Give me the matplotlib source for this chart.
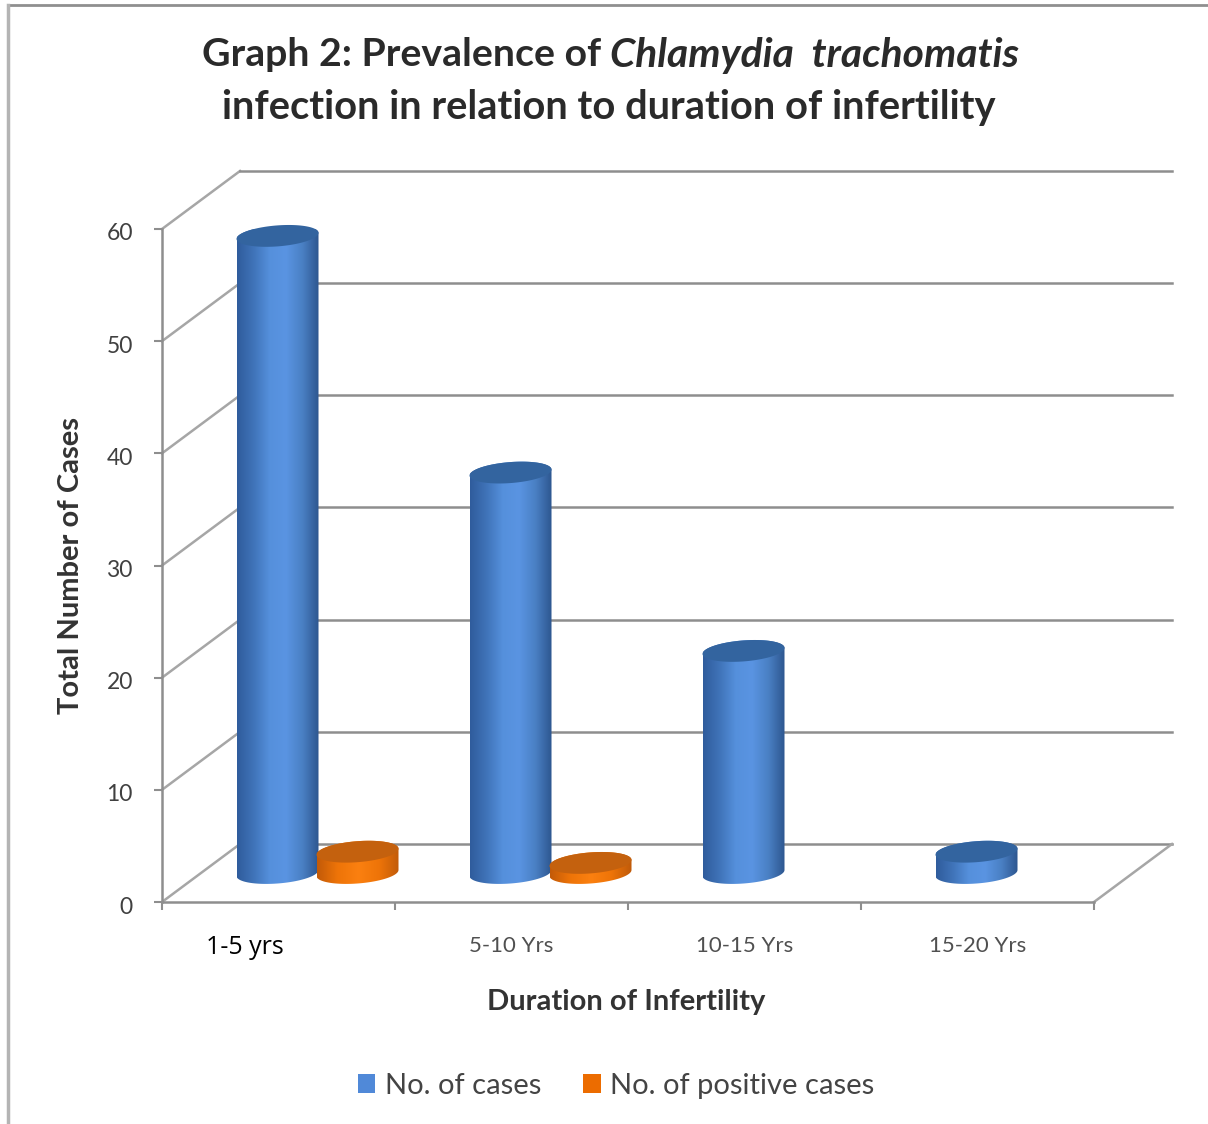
import numpy as np
import matplotlib
matplotlib.use('Agg')
import matplotlib.pyplot as plt
from matplotlib.colors import LinearSegmentedColormap
from matplotlib.lines import Line2D
from matplotlib.patches import Patch, Polygon
from matplotlib.transforms import ScaledTranslation

# Data
categories = ['1-5 yrs', '5-10 Yrs', '10-15 Yrs', '15-20 Yrs']
cases = [56.8, 35.7, 19.8, 1.9]
positive_cases = [1.9, 0.9, 0, 0]
y_ticks = [0, 10, 20, 30, 40, 50, 60]
series_names = ['No. of cases', 'No. of positive cases']

W, H = 1208, 1124
plt.rcParams['font.family'] = ['Lato', 'DejaVu Sans']

fig = plt.figure(figsize=(W / 100, H / 100), dpi=100, facecolor='white')

# Front plane of the fake 3D box, in pixels
left, right, top, bottom = 162, 1094, 229, 902
ax = fig.add_axes([left / W, 1 - bottom / H, (right - left) / W, (bottom - top) / H])
ax.set_xlim(0, 4)
ax.set_ylim(0, 60)
ax.patch.set_alpha(0)

px_x = (right - left) / 4
px_y = (bottom - top) / 60
depth_x = 78 / px_x
depth_y = 58 / px_y
grid_col = '#8e8e8e'
side_col = '#a6a6a6'

# Walls
for v in y_ticks:
    ax.plot([0, depth_x], [v, v + depth_y], color=side_col, lw=1.8, clip_on=False, zorder=1)
    ax.plot([depth_x, 4 + depth_x], [v + depth_y, v + depth_y], color=grid_col,
            lw=1.8, clip_on=False, zorder=1)
ax.plot([4, 4 + depth_x], [0, depth_y], color=side_col, lw=1.8, clip_on=False, zorder=1)

for s in ['top', 'right']:
    ax.spines[s].set_visible(False)
for s in ['left', 'bottom']:
    ax.spines[s].set_color(grid_col)
    ax.spines[s].set_linewidth(1.8)
    ax.spines[s].set_zorder(2)

ax.set_yticks(y_ticks)
ax.set_xticks([0, 1, 2, 3, 4])
ax.set_xticklabels([])
ax.tick_params(axis='both', length=6, width=1.5, color=grid_col)
ax.tick_params(axis='y', labelsize=16.5, labelcolor='#404040', pad=15)
# labels sit a little under their ticks in the original
shift = ScaledTranslation(0, -3 / 100, fig.dpi_scale_trans)
for lab in ax.get_yticklabels():
    lab.set_transform(lab.get_transform() + shift)

blue_map = LinearSegmentedColormap.from_list('b', ['#2f5c9c', '#3f73b8', '#5590dc', '#5a94e2', '#4a80c4', '#2d568f'])
orange_map = LinearSegmentedColormap.from_list('o', ['#c25a08', '#ee7408', '#fb8010', '#ee7408', '#bf5a0a'])


def cylinder(xc, value, cmap, cap_col):
    # Cylinder standing on the middle of the floor
    base = depth_y / 2
    a = 41 / px_x
    b = 10.5 / px_y
    c = 3 / px_y
    t = np.linspace(0, 2 * np.pi, 120)
    lower = np.linspace(np.pi, 2 * np.pi, 60)
    y_top = base + value
    bx = xc + a * np.cos(lower)
    by = base + b * np.sin(lower) + c * np.cos(lower)
    upper = np.linspace(0, np.pi, 60)
    tx = xc + a * np.cos(upper)
    ty = y_top + b * np.sin(upper) + c * np.cos(upper)
    body = Polygon(np.column_stack([np.r_[bx, tx], np.r_[by, ty]]), transform=ax.transData,
                   facecolor='none', edgecolor='none')
    ax.add_patch(body)
    im = ax.imshow(np.linspace(0, 1, 256).reshape(1, -1), cmap=cmap, aspect='auto',
                   extent=[xc - a, xc + a, base - 2 * b, y_top + 2 * b], zorder=3)
    im.set_clip_path(body)
    ax.fill(xc + a * np.cos(t), y_top + b * np.sin(t) + c * np.cos(t), color=cap_col,
            lw=0, zorder=3.1, clip_on=False)


for i in range(4):
    center = i + 0.5 + depth_x / 2
    if cases[i] > 0:
        cylinder(center - 40 / px_x, cases[i], blue_map, '#33649f')
    if positive_cases[i] > 0:
        cylinder(center + 40 / px_x, positive_cases[i], orange_map, '#c4610e')
ax.set_xlim(0, 4)
ax.set_ylim(0, 60)

# Category labels (the first one was pasted over in the original)
for i, name in enumerate(categories):
    if i == 0:
        ax.annotate(name, (245, H - 948), xycoords='figure pixels', ha='center', va='center',
                    fontsize=18, color='black', family=['Open Sans', 'DejaVu Sans'])
    else:
        ax.annotate(name, (i + 0.5, 0), xytext=(0, -44), xycoords=('data', 'data'),
                    textcoords='offset pixels', ha='center', va='center', fontsize=16, color='#505050')

# Titles
title_col = '#2a2a2a'
fig.text(202 / W, 1 - 55 / H, 'Graph 2: Prevalence of ', fontsize=28.3, fontweight='bold', color=title_col, va='center')
fig.text(610 / W, 1 - 55 / H, 'Chlamydia  trachomatis', fontsize=29.3, fontweight='bold', style='italic',
         color=title_col, va='center')
fig.text(609 / W, 1 - 107 / H, 'infection in relation to duration of infertility', fontsize=28.7,
         fontweight='bold', color=title_col, ha='center', va='center')

fig.text(71 / W, 1 - 566 / H, 'Total Number of Cases', rotation=90, fontsize=21, fontweight='bold',
         color='#333333', ha='center', va='center')
fig.text(626 / W, 1 - 1002 / H, 'Duration of Infertility', fontsize=21, fontweight='bold',
         color='#333333', ha='center', va='center')

handles = [Patch(facecolor='#5089d8', label=series_names[0]), Patch(facecolor='#ec6c00', label=series_names[1])]
fig.legend(handles=handles, loc='center', bbox_to_anchor=(616 / W, 1 - 1086 / H), ncol=2, frameon=False,
           fontsize=21, labelcolor='#444444', handlelength=0.6, handleheight=0.6, handletextpad=0.32,
           columnspacing=1.45)

# Outer frame of the pasted picture
fig.add_artist(Line2D([8 / W, 1], [1 - 5 / H, 1 - 5 / H], color='#8f8f8f', lw=2))
fig.add_artist(Line2D([8 / W, 8 / W], [0, 1 - 5 / H], color='#b4b4b4', lw=2.5))

fig.savefig('out.png', dpi=100)
